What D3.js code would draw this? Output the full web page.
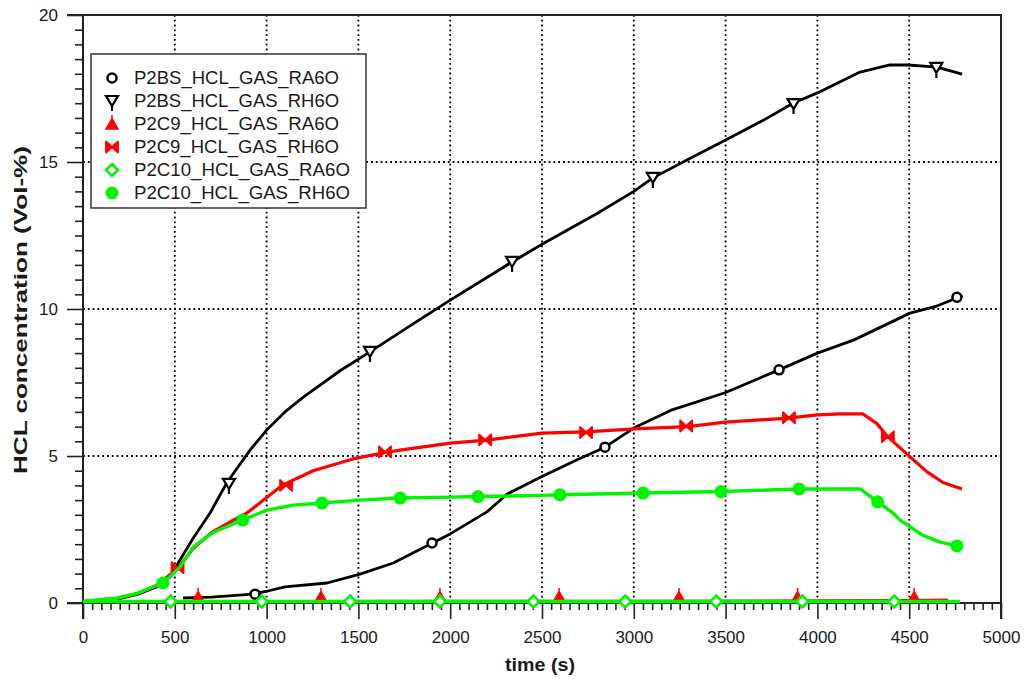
<!DOCTYPE html>
<html><head><meta charset="utf-8">
<script src="https://cdn.jsdelivr.net/npm/d3@7"></script>
<style>
body{margin:0;background:#fff;}
svg text{font-family:"Liberation Sans",Arial,sans-serif;fill:#1a1a1a;}
</style></head>
<body><svg id="c" width="1024" height="679"></svg>
<script>
// ---- data ----
const xTicks = [0,500,1000,1500,2000,2500,3000,3500,4000,4500,5000];
const yTicks = [0,5,10,15,20];
const seriesNames = ["P2BS_HCL_GAS_RA6O","P2BS_HCL_GAS_RH6O","P2C9_HCL_GAS_RA6O","P2C9_HCL_GAS_RH6O","P2C10_HCL_GAS_RA6O","P2C10_HCL_GAS_RH6O"];

const bsRA_t = [545,700,926,1000,1100,1329,1509,1690,1890,2000,2200,2309,2500,2700,2843,3000,3200,3497,3791,4000,4200,4504,4650,4790];
const bsRA_v = [0.17,0.2,0.3,0.4,0.55,0.68,0.98,1.36,2.0,2.35,3.1,3.7,4.3,4.9,5.3,5.95,6.55,7.15,7.93,8.5,8.95,9.86,10.1,10.45];
const bsRA_mt = [937,1901,2843,3791,4760];
const bsRA_mv = [0.3,2.04,5.3,7.93,10.4];

const bsRH_t = [0,200,300,400,474,528,600,692,784,910,1000,1100,1200,1400,1563,1800,2000,2337,2500,2800,3000,3104,3300,3500,3700,3867,4000,4232,4395,4493,4651,4788];
const bsRH_v = [0.05,0.15,0.3,0.55,0.88,1.46,2.2,3.06,4.1,5.2,5.88,6.5,7.0,7.9,8.54,9.5,10.3,11.6,12.2,13.25,14.0,14.46,15.1,15.75,16.4,17.0,17.35,18.06,18.3,18.3,18.23,17.99];
const bsRH_mt = [795,1563,2337,3104,3870,4648];
const bsRH_mv = [4.05,8.54,11.6,14.46,16.97,18.2];

const c9RA_t = [0,500,1000,2000,3000,4000,4500,4711];
const c9RA_v = [0.05,0.05,0.05,0.06,0.06,0.07,0.08,0.1];
const c9RA_mt = [627,1296,1944,2593,3246,3892,4527];
const c9RA_mv = [0.2,0.2,0.2,0.2,0.2,0.2,0.2];

const c9RH_t = [0,200,300,400,512,600,700,800,893,1002,1084,1253,1470,1645,1727,2000,2200,2500,2745,3000,3295,3497,3840,4000,4123,4248,4325,4384,4505,4597,4684,4788];
const c9RH_v = [0.05,0.17,0.33,0.6,1.15,1.85,2.4,2.75,3.06,3.6,4.0,4.5,4.9,5.12,5.2,5.44,5.54,5.78,5.82,5.92,6.0,6.15,6.29,6.4,6.43,6.43,6.1,5.65,4.97,4.46,4.1,3.88];
const c9RH_mt = [515,1106,1645,2190,2740,3285,3845,4384];
const c9RH_mv = [1.2,4.0,5.14,5.55,5.8,6.02,6.3,5.65];

const c10RA_t = [0,1000,2000,3000,4000,4776];
const c10RA_v = [0.05,0.05,0.05,0.05,0.05,0.05];
const c10RA_mt = [477,973,1455,1944,2453,2953,3449,3918,4418];
const c10RA_mv = [0.05,0.05,0.05,0.05,0.05,0.05,0.05,0.05,0.05];

const c10RH_t = [0,185,294,436,528,600,708,866,1002,1144,1302,1509,1727,2000,2151,2500,2598,3050,3475,3900,4232,4330,4412,4450,4575,4668,4760];
const c10RH_v = [0.05,0.17,0.33,0.68,1.22,1.9,2.4,2.82,3.16,3.33,3.4,3.5,3.57,3.6,3.62,3.66,3.68,3.74,3.79,3.88,3.88,3.44,3.06,2.82,2.3,2.07,1.94];
const c10RH_mt = [436,870,1302,1727,2151,2598,3050,3475,3900,4328,4760];
const c10RH_mv = [0.68,2.82,3.4,3.57,3.62,3.68,3.74,3.79,3.88,3.44,1.94];

// ---- layout ----
const L=83, R=1001, T=15, B=603;
const svg = d3.select("#c");
const x = d3.scaleLinear().domain([0,5000]).range([L,R]);
const y = d3.scaleLinear().domain([0,20]).range([B,T]);

// grid
const grid = svg.append("g").attr("stroke","#000").attr("stroke-width",1.8).attr("stroke-dasharray","1.8,3");
xTicks.filter(d=>d>0&&d<5000).forEach(d=>grid.append("line").attr("x1",x(d)).attr("x2",x(d)).attr("y1",T).attr("y2",B));
yTicks.filter(d=>d>0&&d<20).forEach(d=>grid.append("line").attr("x1",L).attr("x2",R).attr("y1",y(d)).attr("y2",y(d)));

// frame (top & right)
svg.append("line").attr("x1",L-16).attr("x2",R+1).attr("y1",T).attr("y2",T).attr("stroke","#222").attr("stroke-width",2);
svg.append("line").attr("x1",R).attr("x2",R).attr("y1",T).attr("y2",B+16).attr("stroke","#222").attr("stroke-width",2);

// axes
const minorX = d3.range(0,5001,50).filter(d=>d%500!==0);
const minorY = d3.range(0,20.01,0.5).filter(d=>d%5!==0);
const gx = svg.append("g").attr("transform",`translate(0,${B})`);
gx.call(d3.axisBottom(x).tickValues(minorX).tickSize(7).tickFormat(""));
gx.call(g=>g.select(".domain").remove());
const gx2 = svg.append("g").attr("transform",`translate(0,${B})`).call(d3.axisBottom(x).tickValues(xTicks).tickSize(16).tickPadding(12).tickFormat(d3.format("d")));
gx2.select(".domain").attr("d",`M${L-16},0H${R}`);
const gy = svg.append("g").attr("transform",`translate(${L},0)`);
gy.call(d3.axisLeft(y).tickValues(minorY).tickSize(8).tickFormat(""));
gy.call(g=>g.select(".domain").remove());
const gy2 = svg.append("g").attr("transform",`translate(${L},0)`).call(d3.axisLeft(y).tickValues(yTicks).tickSize(16).tickPadding(9));
gy2.select(".domain").attr("d",`M0,${T}V${B+16}`);
svg.selectAll(".tick line").attr("stroke","#222").attr("stroke-width",1.6);
svg.selectAll(".domain").attr("stroke","#222").attr("stroke-width",2);
gx2.selectAll("text").attr("font-size",17).attr("font-family","Liberation Sans, Arial").attr("fill","#222");
gy2.selectAll("text").attr("font-size",17).attr("font-family","Liberation Sans, Arial").attr("fill","#333").attr("dy","0.35em");

// axis titles
svg.append("text").attr("x",540).attr("y",671).attr("text-anchor","middle").attr("font-size",18).attr("font-weight","bold")
  .attr("textLength",70).attr("lengthAdjust","spacingAndGlyphs").text("time (s)");
svg.append("text").attr("transform","translate(27,310) rotate(-90)").attr("text-anchor","middle").attr("font-size",18).attr("font-weight","bold")
  .attr("textLength",328).attr("lengthAdjust","spacingAndGlyphs").text("HCL concentration (Vol-%)");

// symbols
function sym(type, color){
  return function(g){
    if(type==="circle"){ g.append("circle").attr("r",4.5).attr("fill","#fff").attr("stroke",color).attr("stroke-width",2.5); }
    else if(type==="down"){ g.append("path").attr("d","M-6,-5L6,-5L0,5Z M0,5V10").attr("fill","#fff").attr("stroke",color).attr("stroke-width",2.2).attr("stroke-linejoin","miter"); }
    else if(type==="up"){ g.append("path").attr("d","M-6,5L6,5L0,-5.5Z M0,-5V-9").attr("fill",color).attr("stroke",color).attr("stroke-width",1.5); }
    else if(type==="bow"){ g.append("path").attr("d","M-6,-5.5L-6,5.5L0,0Z M6,-5.5L6,5.5L0,0Z").attr("fill",color).attr("stroke",color).attr("stroke-width",1.8).attr("stroke-linejoin","round"); }
    else if(type==="diamond"){ g.append("path").attr("d","M0,-6L6,0L0,6L-6,0Z").attr("fill","#fff").attr("stroke",color).attr("stroke-width",2.6); }
    else if(type==="dot"){ g.append("circle").attr("r",6.5).attr("fill",color); }
  };
}

const series = [
  {name:seriesNames[0], t:bsRA_t, v:bsRA_v, mt:bsRA_mt, mv:bsRA_mv, color:"#000", sym:"circle", w:2.8},
  {name:seriesNames[1], t:bsRH_t, v:bsRH_v, mt:bsRH_mt, mv:bsRH_mv, color:"#000", sym:"down", w:2.8},
  {name:seriesNames[2], t:c9RA_t, v:c9RA_v, mt:c9RA_mt, mv:c9RA_mv, color:"#ff0000", sym:"up", w:3.2},
  {name:seriesNames[3], t:c9RH_t, v:c9RH_v, mt:c9RH_mt, mv:c9RH_mv, color:"#ff0000", sym:"bow", w:3.2},
  {name:seriesNames[4], t:c10RA_t, v:c10RA_v, mt:c10RA_mt, mv:c10RA_mv, color:"#00f500", sym:"diamond", w:3.4},
  {name:seriesNames[5], t:c10RH_t, v:c10RH_v, mt:c10RH_mt, mv:c10RH_mv, color:"#00f500", sym:"dot", w:3.4},
];

const line = d3.line().x(d=>x(d[0])).y(d=>y(d[1]));
series.forEach(s=>{
  const pts = s.t.map((t,i)=>[t,s.v[i]]);
  svg.append("path").datum(pts).attr("d",line).attr("fill","none").attr("stroke",s.color).attr("stroke-width",s.w).attr("stroke-linejoin","round");
  s.mt.forEach((t,i)=>{
    const g = svg.append("g").attr("transform",`translate(${x(t)},${y(s.mv[i])})`);
    sym(s.sym,s.color)(g);
  });
});

// legend
const lg = svg.append("g");
lg.append("rect").attr("x",91).attr("y",54).attr("width",275).attr("height",154).attr("fill","#fff").attr("stroke","#333").attr("stroke-width",1.5);
series.forEach((s,i)=>{
  const yy = 78 + i*23;
  const g = lg.append("g").attr("transform",`translate(112,${yy})`);
  sym(s.sym,s.color)(g);
  lg.append("text").attr("x",134).attr("y",yy).attr("dy","0.36em").attr("font-size",18)
    .attr("textLength", i>=4 ? 216 : 205).attr("lengthAdjust","spacingAndGlyphs").text(s.name);
});
</script></body></html>
